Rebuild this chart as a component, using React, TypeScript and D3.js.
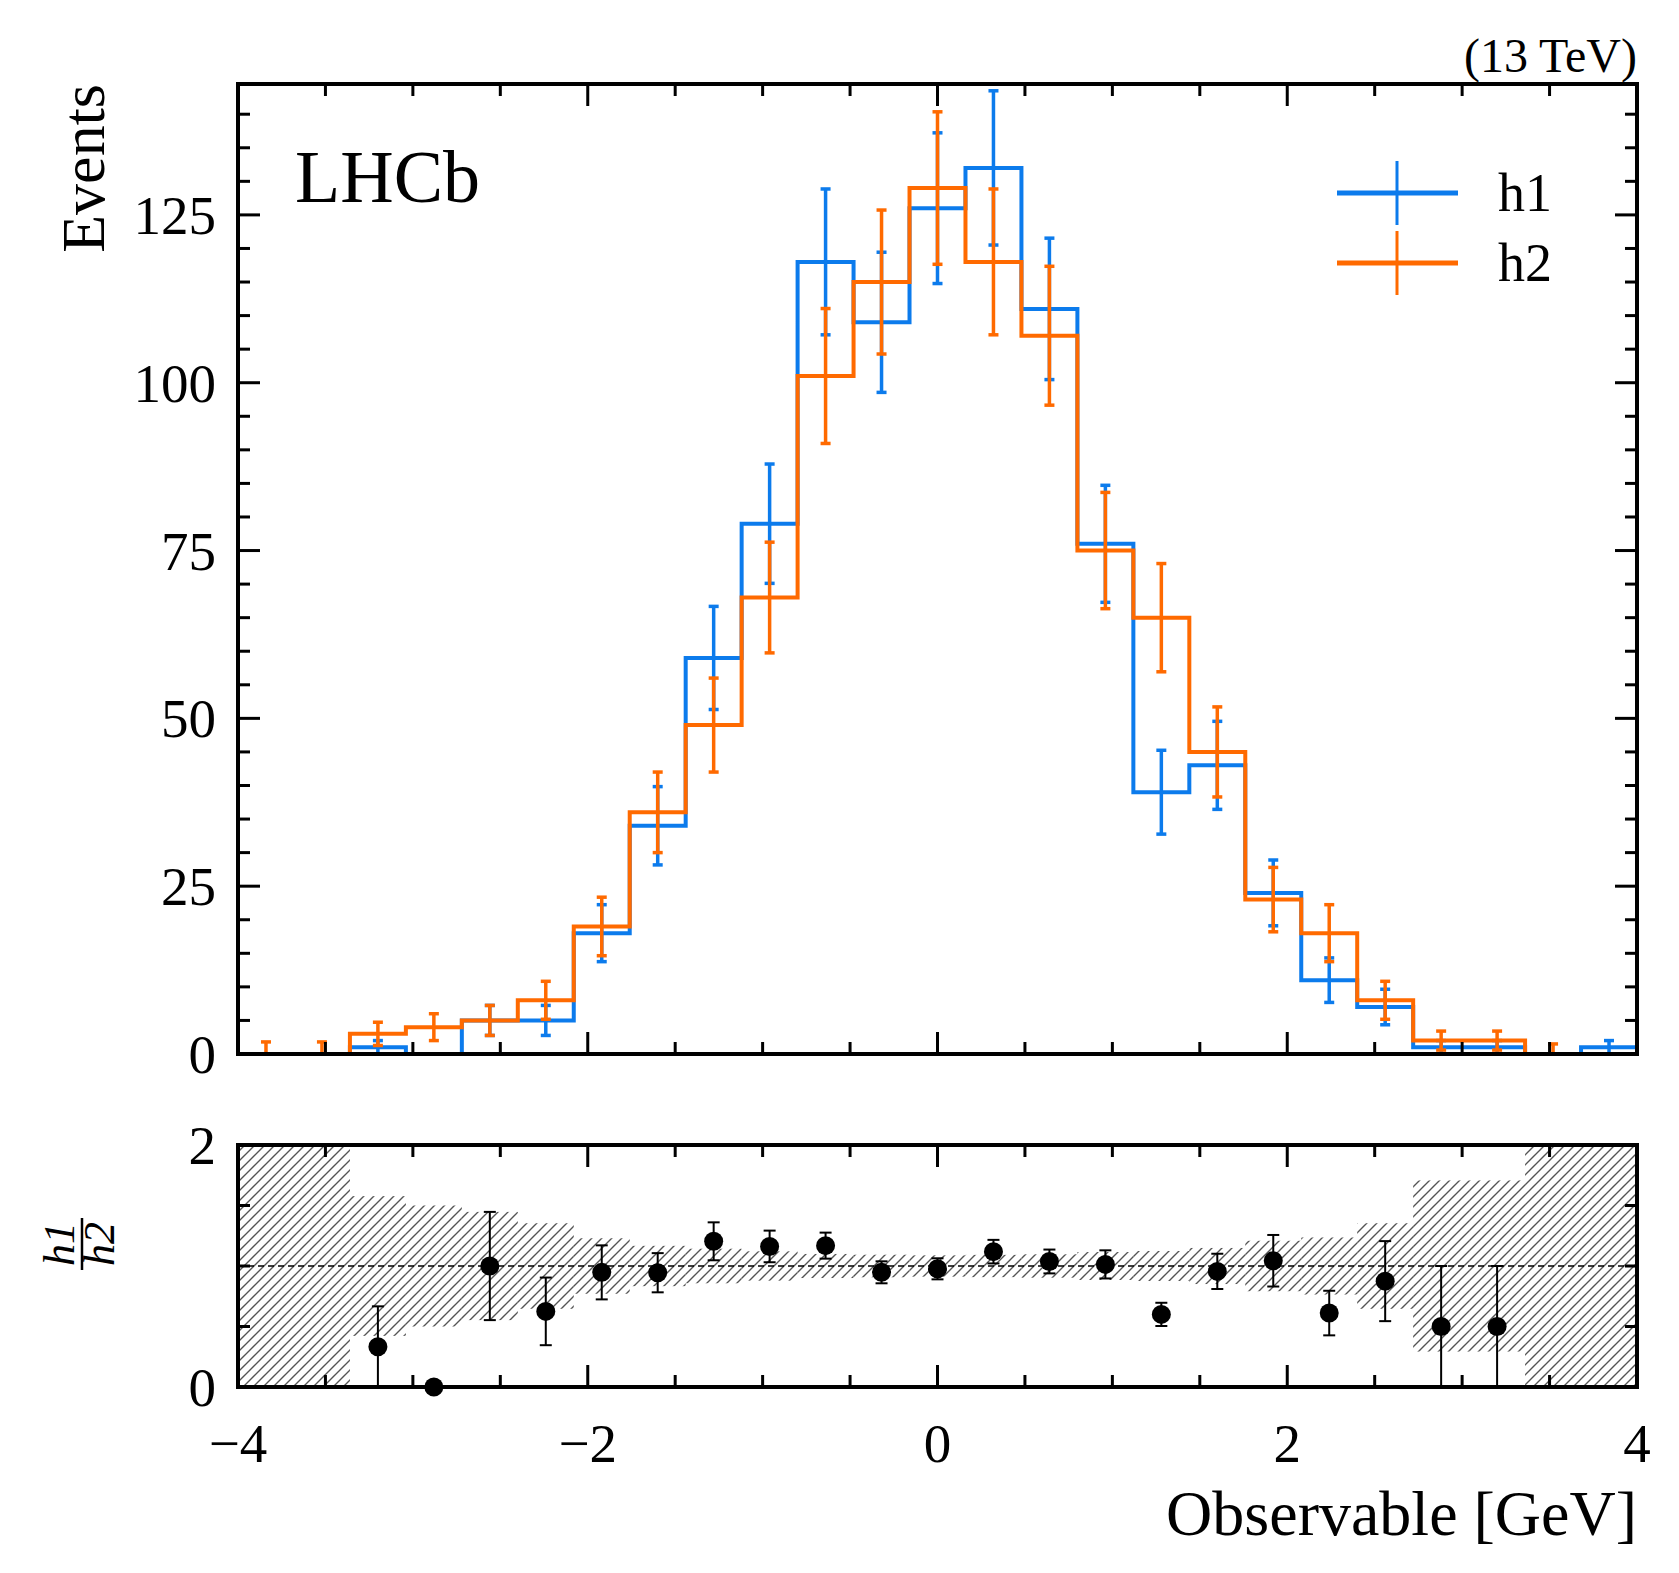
import * as d3 from "d3";

const edges = d3.range(26).map(i => -4 + i * 0.32);
const h1 = [0, 0, 1, 0, 5, 5, 18, 34, 59, 79, 118, 109, 126, 132, 111, 76, 39, 43, 24, 11, 7, 1, 1, 0, 1];
const h2 = [0, 0, 3, 4, 5, 8, 19, 36, 49, 68, 101, 115, 129, 118, 107, 75, 65, 45, 23, 18, 8, 2, 2, 0, 0];
// bins where an empty h2 still shows a small bar
const h2EmptyBar = [1.8, 1.8, 0, 0, 0, 0, 0, 0, 0, 0, 0, 0, 0, 0, 0, 0, 0, 0, 0, 0, 0, 0, 0, 1.5, 0];
const xTicks = [-4, -2, 0, 2, 4];
const yTicks = [0, 25, 50, 75, 100, 125];

const BLUE = "#0c7bec";
const ORANGE = "#ff6a00";
const FONT = "'Liberation Serif', 'DejaVu Serif', serif";

export default function App() {
  const width = 1679, height = 1573;
  const left = 238, right = 1637, top = 84, bottom = 1054;
  const rTop = 1145, rBottom = 1387;

  const x = d3.scaleLinear([-4, 4], [left, right]);
  const y = d3.scaleLinear([0, 144.5], [bottom, top]);
  const yr = d3.scaleLinear([0, 2], [rBottom, rTop]);

  const centers = edges.slice(0, -1).map((e, i) => (e + edges[i + 1]) / 2);

  const stepPath = (vals: number[]) => {
    let p = `M${x(edges[0])},${y(vals[0])}`;
    vals.forEach((v, i) => {
      p += `L${x(edges[i])},${y(v)}L${x(edges[i + 1])},${y(v)}`;
    });
    return p;
  };

  const errBars = (vals: number[], color: string, empty?: number[]) =>
    vals.map((v, i) => {
      const e = v > 0 ? Math.sqrt(v) : (empty ? empty[i] : 0);
      if (e <= 0) return null;
      const cx = x(centers[i]);
      const lo = y(Math.max(0, v - e)), hi = y(Math.min(144.5, v + e));
      return (
        <g key={i} stroke={color} strokeWidth={3.5}>
          <line x1={cx} x2={cx} y1={lo} y2={hi} />
          <line x1={cx - 5} x2={cx + 5} y1={lo} y2={lo} />
          {v + e <= 144.5 && <line x1={cx - 5} x2={cx + 5} y1={hi} y2={hi} />}
        </g>
      );
    });

  // hatched band: 1 +- relative error of h2
  const bandRects = h2.map((v, i) => {
    const lo = v > 0 ? Math.max(0, 1 - Math.sqrt(v) / v) : 0;
    const hi = v > 0 ? Math.min(2, 1 + Math.sqrt(v) / v) : 2;
    return (
      <rect key={i} x={x(edges[i])} width={x(edges[i + 1]) - x(edges[i])}
        y={yr(hi)} height={yr(lo) - yr(hi)} fill="url(#hatch)" />
    );
  });

  const ratioPts = h1.map((v, i) => {
    if (h2[i] === 0) return null;
    const r = v / h2[i];
    const e = Math.sqrt(v) / h2[i];
    const cx = x(centers[i]);
    const lo = yr(Math.max(0, r - e)), hi = yr(Math.min(2, r + e));
    return (
      <g key={i}>
        {e > 0 && (
          <g stroke="#000" strokeWidth={2}>
            <line x1={cx} x2={cx} y1={lo} y2={hi} />
            {r - e > 0 && <line x1={cx - 6} x2={cx + 6} y1={lo} y2={lo} />}
            <line x1={cx - 6} x2={cx + 6} y1={hi} y2={hi} />
          </g>
        )}
        <circle cx={cx} cy={yr(r)} r={9.5} fill="#000" />
      </g>
    );
  });

  const xMinor = d3.range(-4, 4.001, 0.5);
  const yMinor = d3.range(0, 144, 5);
  const rMinor = d3.range(0, 2.001, 0.5);

  const xTickMarks = (yb: number, yt: number) =>
    xMinor.map(t => {
      const major = xTicks.some(m => Math.abs(m - t) < 1e-6);
      const len = major ? 22 : 12;
      return (
        <g key={t} stroke="#000" strokeWidth={3}>
          <line x1={x(t)} x2={x(t)} y1={yb} y2={yb - len} />
          <line x1={x(t)} x2={x(t)} y1={yt} y2={yt + len} />
        </g>
      );
    });

  return (
    <svg width={width} height={height} style={{ position: "absolute", left: 0, top: 0, background: "#fff" }}
      fontFamily={FONT}>
      <defs>
        <pattern id="hatch" patternUnits="userSpaceOnUse" width={10} height={10}>
          <path d="M-2,12 L12,-2 M-2,2 L2,-2 M8,12 L12,8" stroke="#555" strokeWidth={1.4} />
        </pattern>
        <clipPath id="mainClip"><rect x={left} y={top} width={right - left} height={bottom - top} /></clipPath>
      </defs>

      {/* main panel */}
      <g clipPath="url(#mainClip)">
        <path d={stepPath(h1)} fill="none" stroke={BLUE} strokeWidth={4} />
        {errBars(h1, BLUE)}
        <path d={stepPath(h2)} fill="none" stroke={ORANGE} strokeWidth={4} />
        {errBars(h2, ORANGE, h2EmptyBar)}
      </g>
      {xTickMarks(bottom, top)}
      {yMinor.map(t => {
        const major = t % 25 === 0;
        const len = major ? 22 : 12;
        return (
          <g key={t} stroke="#000" strokeWidth={3}>
            <line x1={left} x2={left + len} y1={y(t)} y2={y(t)} />
            <line x1={right} x2={right - len} y1={y(t)} y2={y(t)} />
          </g>
        );
      })}
      {yTicks.map(t => (
        <text key={t} x={216} y={y(t) + 19} fontSize={55} textAnchor="end">{t}</text>
      ))}
      <rect x={left} y={top} width={right - left} height={bottom - top} fill="none" stroke="#000" strokeWidth={4} />

      <text x={0} y={0} transform={`translate(104,${top}) rotate(-90)`} fontSize={62} textAnchor="end">Events</text>
      <text x={295} y={202} fontSize={74}>LHCb</text>
      <text x={right} y={72} fontSize={48} textAnchor="end">(13 TeV)</text>

      {/* legend */}
      {[{ c: BLUE, t: "h1", yy: 193 }, { c: ORANGE, t: "h2", yy: 263 }].map(l => (
        <g key={l.t}>
          <line x1={1337} x2={1458} y1={l.yy} y2={l.yy} stroke={l.c} strokeWidth={5} />
          <line x1={1397} x2={1397} y1={l.yy - 32} y2={l.yy + 32} stroke={l.c} strokeWidth={3} />
          <text x={1498} y={l.yy + 18} fontSize={54}>{l.t}</text>
        </g>
      ))}

      {/* ratio panel */}
      {bandRects}
      <line x1={left} x2={right} y1={yr(1)} y2={yr(1)} stroke="#000" strokeWidth={1.5} strokeDasharray="6,4" />
      {ratioPts}
      {xTickMarks(rBottom, rTop)}
      {rMinor.map(t => {
        const major = t === 0 || t === 2;
        const len = major ? 22 : 12;
        return (
          <g key={t} stroke="#000" strokeWidth={3}>
            <line x1={left} x2={left + len} y1={yr(t)} y2={yr(t)} />
            <line x1={right} x2={right - len} y1={yr(t)} y2={yr(t)} />
          </g>
        );
      })}
      {[0, 2].map(t => (
        <text key={t} x={216} y={yr(t) + 19} fontSize={55} textAnchor="end">{t}</text>
      ))}
      <rect x={left} y={rTop} width={right - left} height={rBottom - rTop} fill="none" stroke="#000" strokeWidth={4} />
      <g transform={`translate(80,${(rTop + rBottom) / 2 - 22}) rotate(-90)`} fontStyle="italic" fontSize={44}>
        <text x={0} y={-6} textAnchor="middle">h1</text>
        <line x1={-26} x2={26} y1={2} y2={2} stroke="#000" strokeWidth={2.5} />
        <text x={0} y={34} textAnchor="middle">h2</text>
      </g>

      {xTicks.map(t => (
        <text key={t} x={x(t)} y={1462} fontSize={55} textAnchor="middle">{t < 0 ? `\u2212${-t}` : t}</text>
      ))}
      <text x={right} y={1535} fontSize={64} textAnchor="end">Observable [GeV]</text>
    </svg>
  );
}
